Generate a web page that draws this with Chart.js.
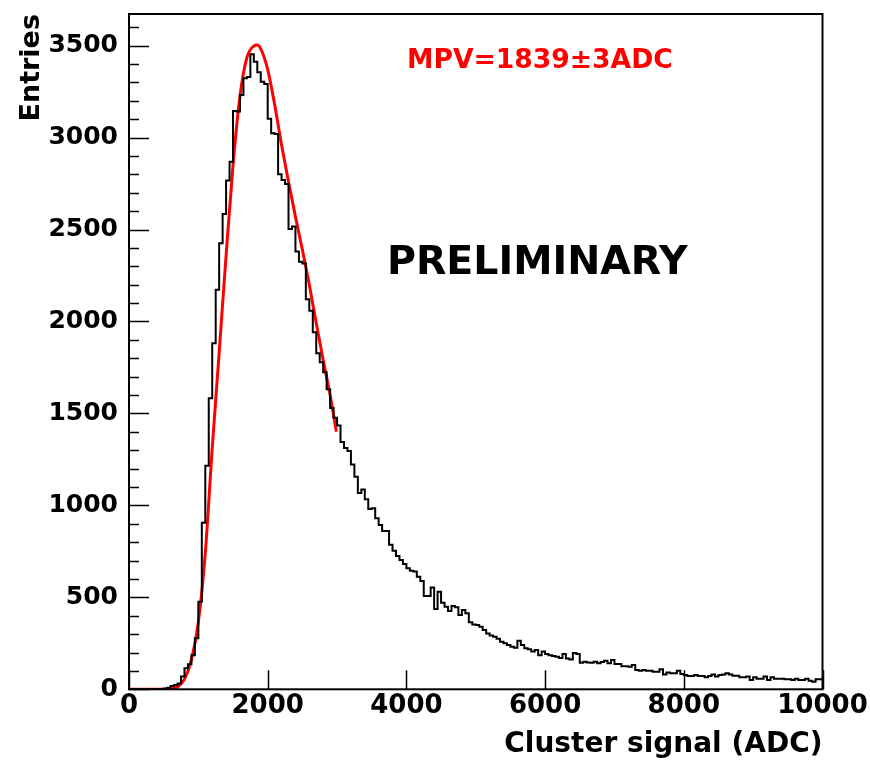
<!DOCTYPE html>
<html>
<head>
<meta charset="utf-8">
<script src="https://cdn.jsdelivr.net/npm/chart.js@4.4.1/dist/chart.umd.min.js"></script>
<style>
  html, body { margin: 0; padding: 0; background: #fff; }
  canvas { display: block; }
</style>
</head>
<body>
<canvas id="spectrum" width="870" height="762"></canvas>
<script>
const BIN_WIDTH = 50;
const Y_MAX = 3672;

// entries per 50 ADC bin, 0..10000
const counts = [
  0, 0, 0, 0, 0, 0, 0, 0, 0, 0,
  0, 4, 9, 18, 24, 32, 69, 115, 136, 185,
  277, 476, 906, 1216, 1582, 1881, 2173, 2425, 2585, 2766,
  2869, 3145, 3142, 3232, 3322, 3330, 3453, 3413, 3355, 3304,
  3291, 3103, 3023, 3020, 2801, 2769, 2748, 2503, 2517, 2380,
  2325, 2316, 2121, 2059, 1941, 1827, 1778, 1724, 1631, 1530,
  1476, 1435, 1345, 1312, 1296, 1223, 1156, 1068, 1086, 1033,
  980, 984, 930, 893, 861, 861, 786, 754, 725, 703,
  681, 658, 645, 640, 612, 589, 507, 507, 553, 437,
  531, 471, 449, 426, 453, 446, 404, 431, 413, 364,
  353, 350, 340, 322, 304, 292, 286, 275, 259, 250,
  241, 232, 226, 264, 241, 223, 218, 205, 214, 185,
  205, 192, 185, 181, 177, 170, 192, 168, 162, 198,
  192, 145, 150, 146, 145, 150, 141, 148, 155, 141,
  159, 137, 137, 126, 126, 123, 132, 105, 101, 105,
  101, 101, 96, 96, 109, 81, 91, 87, 87, 101,
  83, 78, 72, 72, 78, 72, 72, 65, 72, 81,
  69, 78, 81, 87, 81, 74, 74, 65, 65, 69,
  51, 65, 58, 58, 69, 51, 65, 58, 58, 58,
  54, 54, 51, 58, 51, 51, 58, 47, 41, 54
];

// fit curve
const fitAdc = [0, 300, 500, 600, 700, 800, 900, 1000, 1100, 1200, 1300, 1400, 1500, 1600, 1700,
  1800, 1850, 1900, 2000, 2100, 2200, 2300, 2400, 2500, 2600, 2700, 2800, 2900, 2990];
const fitEntries = [0, 0, 0, 2, 12, 55, 160, 365, 740, 1310, 1830, 2360, 2850, 3225, 3435,
  3498, 3503, 3482, 3370, 3180, 2960, 2760, 2570, 2390, 2200, 1990, 1790, 1600, 1400];

const xTicks = [0, 2000, 4000, 6000, 8000, 10000];
const yTicks = [0, 500, 1000, 1500, 2000, 2500, 3000, 3500];

const FONT = "'DejaVu Sans', sans-serif";

const histPoints = counts.map((c, i) => ({ x: i * BIN_WIDTH, y: c }));
histPoints.push({ x: counts.length * BIN_WIDTH, y: counts[counts.length - 1] });

const fitPoints = fitAdc.map((x, i) => ({ x, y: fitEntries[i] }));

// ROOT style frame: box, inward ticks, labels on the pad
const rootFrame = {
  id: "rootFrame",
  afterDatasetsDraw(chart) {
    const { ctx, chartArea: a, scales: { x, y } } = chart;
    ctx.save();
    ctx.strokeStyle = "#000";
    ctx.lineWidth = 1.5;
    ctx.beginPath();
    for (let v = 0; v <= Y_MAX; v += 100) {
      const py = Math.round(y.getPixelForValue(v)) + 0.5;
      ctx.moveTo(a.left, py);
      ctx.lineTo(a.left + (v % 500 === 0 ? 20 : 10), py);
    }
    xTicks.forEach(v => {
      const px = Math.round(x.getPixelForValue(v)) + 0.5;
      ctx.moveTo(px, a.bottom);
      ctx.lineTo(px, a.bottom - 19);
    });
    ctx.stroke();
    ctx.lineWidth = 2;
    ctx.strokeRect(a.left, a.top, a.right - a.left, a.bottom - a.top);

    ctx.textBaseline = "middle";
    ctx.fillStyle = "#000";
    ctx.font = `bold 39.5px ${FONT}`;
    ctx.fillText("PRELIMINARY", 387, 264);
    ctx.fillStyle = "#ff0000";
    ctx.font = `bold 26.6px ${FONT}`;
    ctx.fillText("MPV=1839±3ADC", 407, 61);
    ctx.restore();
  }
};

new Chart(document.getElementById("spectrum"), {
  type: "line",
  data: {
    datasets: [
      {
        label: "Cluster signal",
        data: histPoints,
        stepped: "after",
        borderColor: "#000",
        borderWidth: 2,
        pointRadius: 0,
        fill: false
      },
      {
        label: "Fit",
        data: fitPoints,
        borderColor: "#ff0000",
        borderWidth: 3,
        pointRadius: 0,
        cubicInterpolationMode: "monotone",
        fill: false
      }
    ]
  },
  options: {
    responsive: false,
    animation: false,
    devicePixelRatio: 1,
    layout: { padding: { left: 0, top: 14, right: 47.5, bottom: 0 } },
    plugins: {
      legend: { display: false },
      tooltip: { enabled: false }
    },
    scales: {
      x: {
        type: "linear",
        min: 0,
        max: 10000,
        afterBuildTicks: s => { s.ticks = xTicks.map(v => ({ value: v })); },
        afterFit: s => { s.height = 72.7; s.paddingLeft = 0; s.paddingRight = 0; },
        grid: { display: false, drawTicks: false },
        border: { display: false },
        ticks: {
          color: "#000",
          font: { family: FONT, weight: "bold", size: 26 },
          padding: 1,
          maxRotation: 0,
          autoSkip: false,
          callback: v => String(v)
        },
        title: {
          display: true,
          text: "Cluster signal (ADC)",
          align: "end",
          color: "#000",
          font: { family: FONT, weight: "bold", size: 28 },
          padding: 0
        }
      },
      y: {
        type: "linear",
        min: 0,
        max: Y_MAX,
        afterBuildTicks: s => { s.ticks = yTicks.map(v => ({ value: v })); },
        afterFit: s => { s.width = 129; s.paddingTop = 0; s.paddingBottom = 0; },
        grid: { display: false, drawTicks: false },
        border: { display: false },
        ticks: {
          color: "#000",
          font: { family: FONT, weight: "bold", size: 25 },
          padding: 11,
          callback: v => String(v)
        },
        title: {
          display: true,
          text: "Entries",
          align: "end",
          color: "#000",
          font: { family: FONT, weight: "bold", size: 27 },
          padding: { top: 16, bottom: 0 }
        }
      }
    }
  },
  plugins: [rootFrame]
});
</script>
</body>
</html>
